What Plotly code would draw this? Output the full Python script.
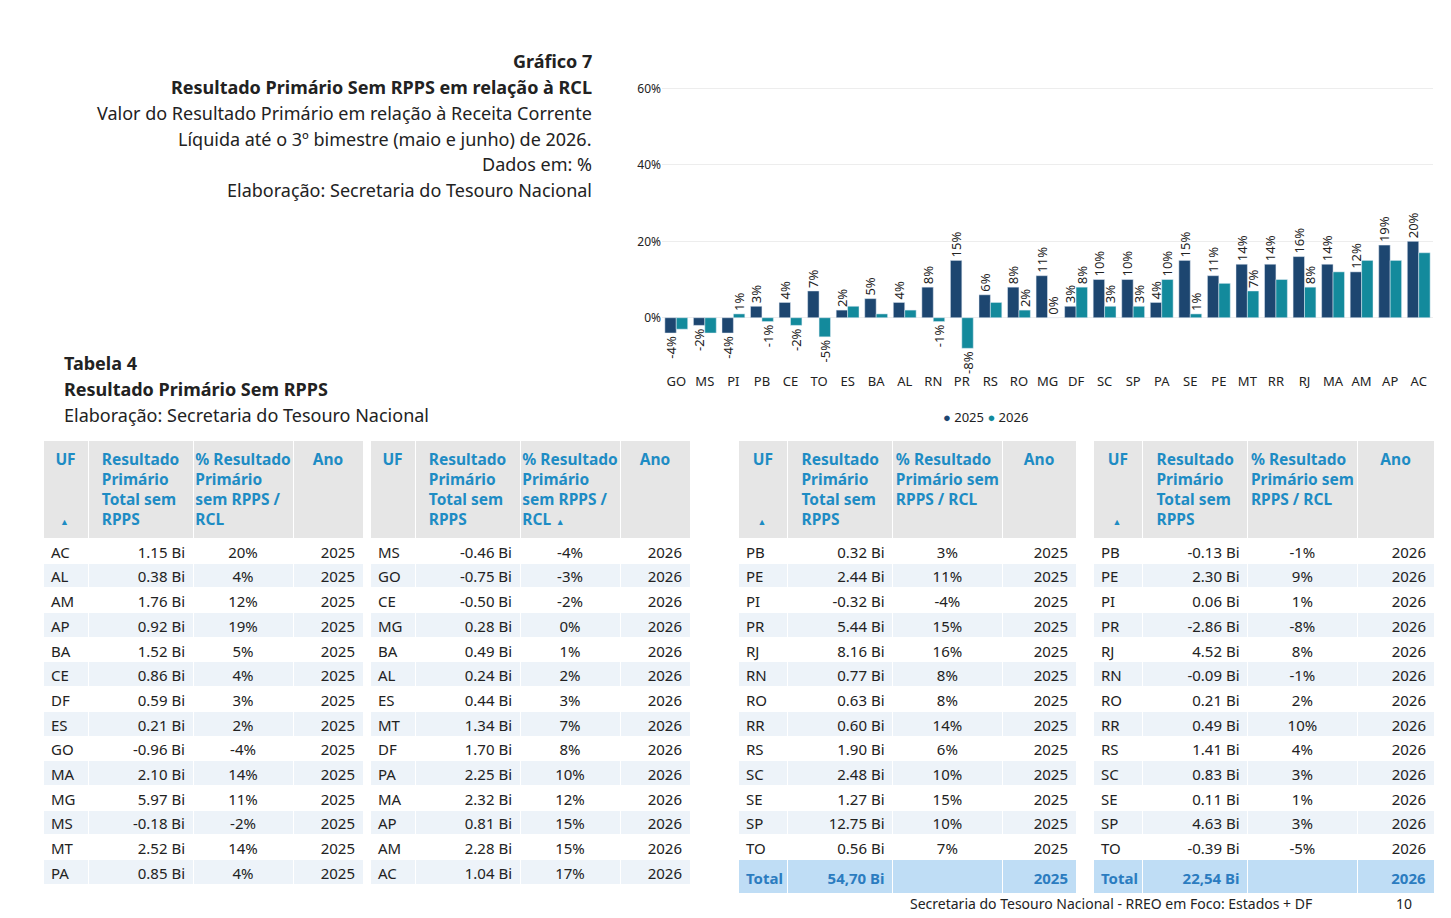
import plotly.graph_objects as go

W, H = 1435, 902
OFF = 8
def fx(p): return (p - OFF) / W
def fy(p): return 1 - (p - OFF) / H

# ---- chart data ----
ufs = ["GO","MS","PI","PB","CE","TO","ES","BA","AL","RN","PR","RS","RO","MG","DF","SC","SP","PA","SE","PE","MT","RR","RJ","MA","AM","AP","AC"]
v2025 = [-4,-2,-4,3,4,7,2,5,4,8,15,6,8,11,3,10,10,4,15,11,14,14,16,14,12,19,20]
v2026 = [-3,-4,1,-1,-2,-5,3,1,2,-1,-8,4,2,0,8,3,3,10,1,9,7,10,8,12,15,15,17]
show2026 = [0,0,1,1,1,1,0,0,0,1,1,0,1,1,1,1,1,1,1,0,1,0,1,0,0,0,0]

# ---- table data ----
t1_uf = ["AC","AL","AM","AP","BA","CE","DF","ES","GO","MA","MG","MS","MT","PA"]
t1_val = [1.15,0.38,1.76,0.92,1.52,0.86,0.59,0.21,-0.96,2.10,5.97,-0.18,2.52,0.85]
t1_pct = [20,4,12,19,5,4,3,2,-4,14,11,-2,14,4]
t2_uf = ["MS","GO","CE","MG","BA","AL","ES","MT","DF","PA","MA","AP","AM","AC"]
t2_val = [-0.46,-0.75,-0.50,0.28,0.49,0.24,0.44,1.34,1.70,2.25,2.32,0.81,2.28,1.04]
t2_pct = [-4,-3,-2,0,1,2,3,7,8,10,12,15,15,17]
t3_uf = ["PB","PE","PI","PR","RJ","RN","RO","RR","RS","SC","SE","SP","TO"]
t3_val = [0.32,2.44,-0.32,5.44,8.16,0.77,0.63,0.60,1.90,2.48,1.27,12.75,0.56]
t3_pct = [3,11,-4,15,16,8,8,14,6,10,15,10,7]
t4_uf = t3_uf
t4_val = [-0.13,2.30,0.06,-2.86,4.52,-0.09,0.21,0.49,1.41,0.83,0.11,4.63,-0.39]
t4_pct = [-1,9,1,-8,8,-1,2,10,4,3,1,3,-5]
total_2025 = "54,70 Bi"
total_2026 = "22,54 Bi"

C25, C26 = "#1D4670", "#138A9C"
FONT = "Noto Sans"
fig = go.Figure()
fig.add_trace(go.Bar(x=ufs, y=v2025, name="2025", marker_color=C25,
                     text=[f"{v}%" for v in v2025], textposition="outside", textangle=-90,
                     constraintext="none",
                     textfont=dict(size=13, color="#222"), cliponaxis=False))
fig.add_trace(go.Bar(x=ufs, y=v2026, name="2026", marker_color=C26,
                     text=[f"{v}%" if s else "" for v, s in zip(v2026, show2026)],
                     textposition="outside", textangle=-90, constraintext="none",
                     textfont=dict(size=13, color="#222"), cliponaxis=False))

HDRC = "#1E8CC4"
def add_table(x0, x1, uf, val, pct, ano, pct_hdr, arrow_col, widths, total=None):
    n = len(uf)
    cu = list(uf); cv = [f"{v:.2f} Bi" for v in val]; cp = [f"{p}%" for p in pct]; ca = [ano]*n
    fills = ["white" if i % 2 == 0 else "#EDF3F9" for i in range(n)]
    colors = ["#222"]*n
    if total:
        cu.append("<b>Total</b>"); cv.append(f"<b>{total}</b>"); cp.append(""); ca.append(f"<b>{ano}</b>")
        fills.append("#BFDDF5"); colors.append("#2B7CC0")
    hdr = ["UF", "Resultado<br>Primário<br>Total sem<br>RPPS", pct_hdr, "Ano"]
    hdr = [h + "<br>" * (3 - h.count("<br>")) for h in hdr]
    hdr[arrow_col] = hdr[arrow_col] + "<span style='font-size:9px'>  ▲</span>"
    fig.add_trace(go.Table(
        domain=dict(x=[fx(x0), fx(x1)], y=[fy(893), fy(440)]),
        columnwidth=widths,
        header=dict(values=[f"<b>{h}</b>" for h in hdr], fill_color="#E6E6E6",
                    line_color="white", align=["center"]*4,
                    font=dict(family=FONT, size=15.5, color=HDRC), height=24),
        cells=dict(values=[cu, cv, cp, ca], fill_color=[fills]*4, line_color="white",
                   align=["left", "right", "center", "right"],
                   font=dict(family=FONT, size=15, color=[colors]*4), height=24.7)))

p1 = "% Resultado<br>Primário<br>sem RPPS /<br>RCL"
p2 = "% Resultado<br>Primário sem<br>RPPS / RCL"
add_table(43, 363, t1_uf, t1_val, t1_pct, "2025", p1, 0, [45, 105, 100, 70])
add_table(370, 690, t2_uf, t2_val, t2_pct, "2026", p1, 2, [45, 105, 100, 70])
add_table(738, 1077, t3_uf, t3_val, t3_pct, "2025", p2, 0, [50, 105, 110, 74], total_2025)
add_table(1093, 1435, t4_uf, t4_val, t4_pct, "2026", p2, 0, [50, 105, 110, 77], total_2026)

anns = []
def txt(x, y, s, anchor="right", size=18, bold=False, color="#222"):
    anns.append(dict(x=fx(x), y=fy(y), xref="paper", yref="paper", text=f"<b>{s}</b>" if bold else s,
                     showarrow=False, xanchor=anchor, yanchor="middle",
                     font=dict(family=FONT, size=size, color=color)))
txt(594, 61, "Gráfico 7", bold=True)
txt(594, 87, "Resultado Primário Sem RPPS em relação à RCL", bold=True)
txt(594, 113, "Valor do Resultado Primário em relação à Receita Corrente")
txt(594, 139, "Líquida até o 3º bimestre (maio e junho) de 2026.")
txt(594, 164, "Dados em: %")
txt(594, 190, "Elaboração: Secretaria do Tesouro Nacional")
txt(62, 363, "Tabela 4", anchor="left", bold=True)
txt(62, 389, "Resultado Primário Sem RPPS", anchor="left", bold=True)
txt(62, 415, "Elaboração: Secretaria do Tesouro Nacional", anchor="left")
txt(908, 903, "Secretaria do Tesouro Nacional - RREO em Foco: Estados + DF", anchor="left", size=14)
txt(1414, 903, "10", anchor="right", size=14)
anns.append(dict(x=fx(1030), y=fy(417), xref="paper", yref="paper", showarrow=False,
                 text=f"<span style='color:{C25}'>●</span> 2025 <span style='color:{C26}'>●</span> 2026",
                 font=dict(family=FONT, size=13, color="#222")))

fig.update_layout(
    width=W, height=H, margin=dict(l=0, r=0, t=0, b=0), paper_bgcolor="white", plot_bgcolor="white",
    showlegend=False, barmode="group", bargap=0.2, bargroupgap=0,
    font=dict(family=FONT, color="#222"), annotations=anns,
    xaxis=dict(domain=[fx(662), fx(1433)], tickfont=dict(size=13), showgrid=False, ticks="", automargin=False),
    yaxis=dict(domain=[fy(372), fy(12)], range=[-14.2, 80], dtick=20, ticksuffix="%",
               showgrid=True, gridcolor="#EDEDED", zeroline=False, tickfont=dict(size=12), automargin=False),
)
fig.write_html("out.html")
